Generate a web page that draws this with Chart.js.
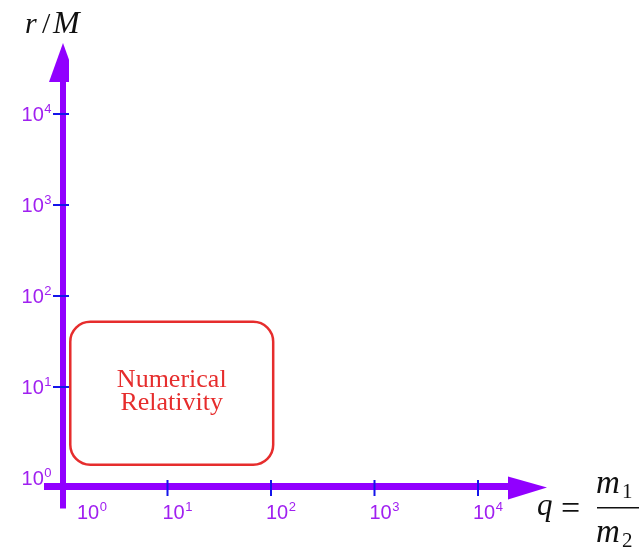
<!doctype html>
<html lang="en">
  <head>
    <meta charset="utf-8">
    <title>q vs r/M</title>
    <script src="https://cdn.jsdelivr.net/npm/chart.js@4.4.0/dist/chart.umd.min.js"></script>
    <style>
      body { margin: 0; background: #fff; }
      #chartx { width: 639px; height: 547px; }
    </style>
  </head>
  <body>
    <div id="chartx"><canvas id="myChart"></canvas></div>

<script>
// decade ticks on both log axes (value + exponent shown as 10^n)
const tickValues = [1, 10, 100, 1000, 10000]
const tickExponents = ['0', '1', '2', '3', '4']

// Numerical Relativity region: mass ratio q and separation r/M
const nrQ = [1.15, 105]
const nrR = [1.4, 52]
const nrLabel = ['Numerical', 'Relativity']

const axisColor = 'rgb(145, 0, 255)'
const tickColor = 'rgb(20, 20, 235)'
const labelColor = 'rgb(160, 32, 240)'
const boxColor = 'rgb(230, 45, 45)'

// 10 with a raised exponent
function powerLabel(ctx, x, y, exp, align) {
    ctx.font = '20px "Liberation Sans", Arial, sans-serif'
    const wBase = ctx.measureText('10').width
    ctx.font = '13px "Liberation Sans", Arial, sans-serif'
    const wExp = ctx.measureText(exp).width
    const left = align === 'right' ? x - wBase - wExp : x
    ctx.textAlign = 'left'
    ctx.textBaseline = 'alphabetic'
    ctx.fillStyle = labelColor
    ctx.font = '20px "Liberation Sans", Arial, sans-serif'
    ctx.fillText('10', left, y)
    ctx.font = '13px "Liberation Sans", Arial, sans-serif'
    ctx.fillText(exp, left + wBase + 0.5, y - 8)
}

const arrowAxes = {
    id: 'arrowAxes',
    afterDraw(chart) {
        const ctx = chart.ctx
        const xs = chart.scales.x
        const ys = chart.scales.y
        const x0 = xs.getPixelForValue(1) - 1   // vertical axis line
        const y0 = ys.getPixelForValue(1) + 8.5 // horizontal axis line
        ctx.save()

        // region box
        const left = xs.getPixelForValue(nrQ[0])
        const right = xs.getPixelForValue(nrQ[1])
        const top = ys.getPixelForValue(nrR[1])
        const bottom = ys.getPixelForValue(nrR[0])
        const rad = 20
        ctx.beginPath()
        ctx.moveTo(left + rad, top)
        ctx.lineTo(right - rad, top)
        ctx.arcTo(right, top, right, top + rad, rad)
        ctx.lineTo(right, bottom - rad)
        ctx.arcTo(right, bottom, right - rad, bottom, rad)
        ctx.lineTo(left + rad, bottom)
        ctx.arcTo(left, bottom, left, bottom - rad, rad)
        ctx.lineTo(left, top + rad)
        ctx.arcTo(left, top, left + rad, top, rad)
        ctx.closePath()
        ctx.lineWidth = 2.5
        ctx.strokeStyle = boxColor
        ctx.stroke()

        const cx = (left + right) / 2
        const cy = (top + bottom) / 2
        ctx.fillStyle = boxColor
        ctx.font = '26px "Liberation Serif", "Times New Roman", serif'
        ctx.textAlign = 'center'
        ctx.textBaseline = 'alphabetic'
        ctx.fillText(nrLabel[0], cx, cy - 6)
        ctx.fillText(nrLabel[1], cx, cy + 17)

        // axis lines
        ctx.fillStyle = axisColor
        ctx.fillRect(x0 - 3, 82, 6, y0 + 22 - 82)
        ctx.fillRect(44, y0 - 3.5, 466, 7)

        // y arrow head (right side trimmed)
        ctx.save()
        ctx.beginPath()
        ctx.rect(0, 0, x0 + 6, chart.height)
        ctx.clip()
        ctx.beginPath()
        ctx.moveTo(x0 - 14, 82)
        ctx.lineTo(x0, 43)
        ctx.lineTo(x0 + 14, 82)
        ctx.closePath()
        ctx.fill()
        ctx.restore()

        // x arrow head
        ctx.beginPath()
        ctx.moveTo(508, y0 - 10)
        ctx.lineTo(547, y0 + 1)
        ctx.lineTo(508, y0 + 13)
        ctx.closePath()
        ctx.fill()

        // ticks + labels
        ctx.strokeStyle = tickColor
        ctx.lineWidth = 2
        tickValues.forEach((v, i) => {
            const py = ys.getPixelForValue(v)
            const px = xs.getPixelForValue(v)
            if (i > 0) {
                ctx.beginPath()
                ctx.moveTo(x0 - 10, py)
                ctx.lineTo(x0 + 6, py)
                ctx.moveTo(px, y0 - 6.5)
                ctx.lineTo(px, y0 + 9.5)
                ctx.stroke()
            }
            powerLabel(ctx, x0 - 12, py + 7, tickExponents[i], 'right')
            // first x label sits clear of the vertical axis
            const lx = i === 0 ? px + 13 : px - 5
            powerLabel(ctx, lx, y0 + 32.5, tickExponents[i], 'left')
        })

        // axis titles
        ctx.fillStyle = '#111'
        ctx.textAlign = 'left'
        const ital = 'italic 30px "Liberation Serif", "Times New Roman", serif'
        const roman = '30px "Liberation Serif", "Times New Roman", serif'
        ctx.font = ital
        ctx.fillText('r', 25, 33)
        ctx.font = roman
        ctx.fillText('/', 42, 33)
        ctx.font = 'italic 32px "Liberation Serif", "Times New Roman", serif'
        ctx.fillText('M', 53, 33)

        ctx.font = 'italic 31px "Liberation Serif", "Times New Roman", serif'
        ctx.fillText('q', 537, 515)
        ctx.font = '34px "Liberation Serif", "Times New Roman", serif'
        ctx.fillText('=', 561, 519)
        ctx.font = 'italic 33px "Liberation Serif", "Times New Roman", serif'
        ctx.fillText('m', 596, 493)
        ctx.fillText('m', 596, 542)
        ctx.font = '21px "Liberation Serif", "Times New Roman", serif'
        ctx.fillText('1', 622, 498)
        ctx.fillText('2', 622, 547)
        ctx.fillRect(597, 507, 42, 1.5)

        ctx.restore()
    }
}

const config = {
    type: 'scatter',
    data: { datasets: [] },
    options: {
        responsive: true,
        maintainAspectRatio: false,
        animation: false,
        layout: {
            padding: { left: 64, right: 161, top: 114, bottom: 69 }
        },
        scales: {
            x: { type: 'logarithmic', min: 1, max: 10000, display: false },
            y: { type: 'logarithmic', min: 1, max: 10000, display: false }
        },
        plugins: {
            legend: { display: false },
            tooltip: { enabled: false }
        }
    },
    plugins: [arrowAxes]
}

const myChart = new Chart(document.getElementById('myChart'), config)
</script>
  </body>
</html>
